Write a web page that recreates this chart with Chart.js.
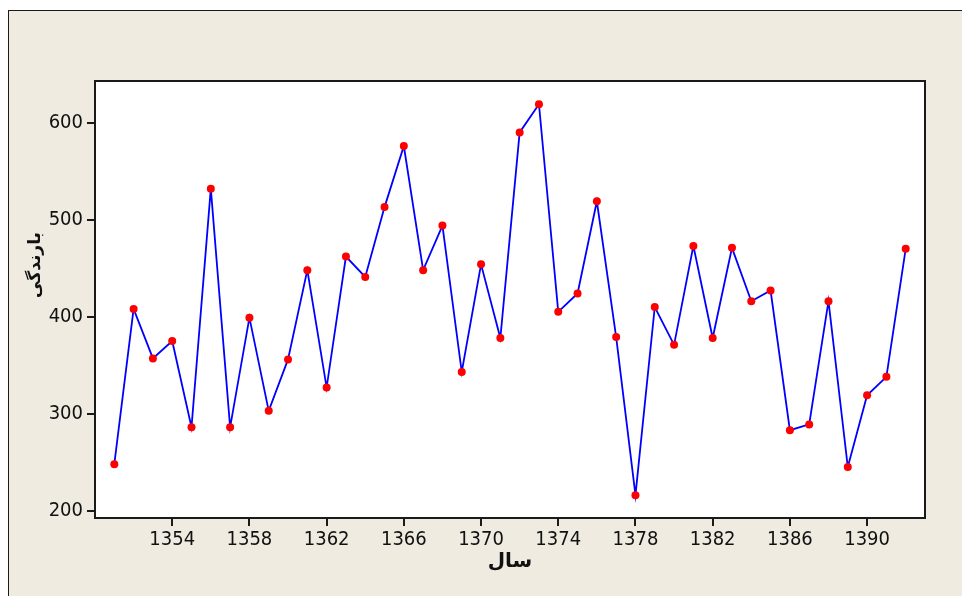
<!DOCTYPE html>
<html>
<head>
<meta charset="utf-8">
<style>
    html, body { margin: 0; padding: 0; background: #ffffff; }
    #frame {
        position: absolute; left: 8px; top: 10px; right: 0; bottom: 0;
        background: #efebe0;
        border-left: 1.5px solid #1a1a1a;
        border-top: 1.5px solid #1a1a1a;
    }
    #myChart { position: absolute; left: 0; top: 0; }
</style>
</head>
<body>
<div id="frame"></div>
<canvas id="myChart" width="962" height="596"></canvas>

<script src="https://cdn.jsdelivr.net/npm/chart.js@4/dist/chart.umd.min.js"></script>
<script>
    // data
    const years = [1351, 1352, 1353, 1354, 1355, 1356, 1357, 1358, 1359, 1360,
        1361, 1362, 1363, 1364, 1365, 1366, 1367, 1368, 1369, 1370,
        1371, 1372, 1373, 1374, 1375, 1376, 1377, 1378, 1379, 1380,
        1381, 1382, 1383, 1384, 1385, 1386, 1387, 1388, 1389, 1390,
        1391, 1392];
    const rainfall = [248, 408, 357, 375, 286, 532, 286, 399, 303, 356,
        448, 327, 462, 441, 513, 576, 448, 494, 343, 454,
        378, 590, 619, 405, 424, 519, 379, 216, 410, 371,
        473, 378, 471, 416, 427, 283, 289, 416, 245, 319,
        338, 470];
    const xTicks = [1354, 1358, 1362, 1366, 1370, 1374, 1378, 1382, 1386, 1390];
    const yTicks = [200, 300, 400, 500, 600];

    const xTitle = 'سال';
    const yTitle = 'بارندگی';

    const points = years.map((y, i) => ({ x: y, y: rainfall[i] }));

    const tickFont = { family: '"DejaVu Sans Condensed", "DejaVu Sans"', size: 20 };

    // white plot area with a black frame round it
    const plotFrame = {
        id: 'plotFrame',
        beforeDraw(chart) {
            const a = chart.chartArea;
            const ctx = chart.ctx;
            ctx.save();
            ctx.fillStyle = '#ffffff';
            ctx.fillRect(a.left, a.top, a.right - a.left, a.bottom - a.top);
            ctx.restore();
        },
        afterDraw(chart) {
            const a = chart.chartArea;
            const ctx = chart.ctx;
            ctx.save();
            ctx.strokeStyle = '#1a1a1a';
            ctx.lineWidth = 2;
            ctx.strokeRect(a.left, a.top, a.right - a.left, a.bottom - a.top);
            // y axis title, sits a bit above the middle like the original
            ctx.translate(36, 265);
            ctx.rotate(-Math.PI / 2);
            ctx.fillStyle = '#111';
            ctx.font = 'bold 17px "DejaVu Sans"';
            ctx.textAlign = 'center';
            ctx.textBaseline = 'middle';
            ctx.fillText(yTitle, 0, 0);
            ctx.restore();
        }
    };

    const ctx = document.getElementById('myChart');

    let chart = new Chart(ctx, {
        type: 'line',
        data: {
            datasets: [{
                data: points,
                borderColor: '#0000ff',
                borderWidth: 1.8,
                pointBackgroundColor: '#ff0000',
                pointBorderColor: '#ff0000',
                pointBorderWidth: 0,
                pointRadius: 4,
                tension: 0
            }]
        },
        options: {
            responsive: false,
            animation: false,
            layout: { padding: { top: 81, right: 37, left: 0, bottom: 0 } },
            plugins: { legend: { display: false }, tooltip: { enabled: false } },
            scales: {
                x: {
                    type: 'linear',
                    min: 1350,
                    max: 1393,
                    afterBuildTicks: s => { s.ticks = xTicks.map(v => ({ value: v })); },
                    afterFit: s => { s.height = 78; },
                    grid: { drawOnChartArea: false, tickLength: 8, tickColor: '#1a1a1a', lineWidth: 2 },
                    border: { display: false },
                    ticks: {
                        color: '#111', padding: 2, maxRotation: 0, autoSkip: false,
                        font: tickFont,
                        callback: v => String(v)
                    },
                    title: {
                        display: true, text: xTitle, color: '#111',
                        font: { family: 'DejaVu Sans', size: 20, weight: 'bold' },
                        padding: { top: 0, bottom: 22 }
                    }
                },
                y: {
                    min: 192.5,
                    max: 643,
                    afterBuildTicks: s => { s.ticks = yTicks.map(v => ({ value: v })); },
                    afterFit: s => { s.width = 95; },
                    grid: { drawOnChartArea: false, tickLength: 8, tickColor: '#1a1a1a', lineWidth: 2 },
                    border: { display: false },
                    ticks: {
                        color: '#111', padding: 4,
                        font: tickFont
                    }
                }
            }
        },
        plugins: [plotFrame]
    });
</script>
</body>
</html>
